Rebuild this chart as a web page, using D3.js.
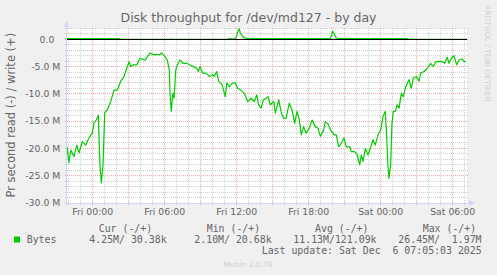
<!DOCTYPE html>
<html><head><meta charset="utf-8">
<script src="https://cdn.jsdelivr.net/npm/d3@7"></script>
<style>
html,body{margin:0;padding:0;background:#f0f0f0;}
svg{display:block;}
text{white-space:pre;}
</style>
</head><body>
<svg id="c" width="497" height="275"></svg>
<script>
// ---------- data ----------
const title = "Disk throughput for /dev/md127 - by day";
const yLabel = "Pr second read (-) / write (+)";
const watermark = "RRDTOOL / TOBI OETIKER";
const footer = "Munin 2.0.76";
// hours relative to Fri 00:00
const readHours = [-2.14,-1.98,-1.83,-1.56,-1.33,-1.14,-0.87,-0.58,-0.39,-0.23,-0.03,0.11,0.30,0.47,0.53,0.61,0.72,0.86,1.00,1.22,1.50,1.78,2.05,2.33,2.61,2.75,3.03,3.17,3.38,3.67,3.94,4.36,4.78,5.05,5.33,5.61,5.75,6.03,6.22,6.38,6.44,6.55,6.67,6.78,6.92,7.05,7.28,7.55,7.83,8.11,8.38,8.67,8.80,8.94,9.17,9.44,9.72,10.00,10.13,10.33,10.50,10.78,11.05,11.17,11.38,11.67,11.88,12.08,12.36,12.63,12.92,13.19,13.47,13.67,13.83,14.03,14.22,14.38,14.61,14.80,15.08,15.22,15.50,15.72,15.92,16.11,16.38,16.61,16.83,17.03,17.22,17.38,17.58,17.78,18.05,18.28,18.55,18.78,18.97,19.25,19.38,19.61,19.83,20.11,20.30,20.50,20.72,20.94,21.13,21.42,21.55,21.83,22.05,22.25,22.38,22.53,22.72,22.94,23.17,23.36,23.55,23.78,24.00,24.19,24.38,24.50,24.61,24.69,24.83,24.94,25.05,25.22,25.36,25.53,25.72,25.88,26.08,26.36,26.55,26.72,27.00,27.19,27.33,27.61,27.88,28.17,28.38,28.58,28.86,29.13,29.33,29.55,29.69,29.88,30.11,30.33,30.53,30.80,30.94,31.08];
// read throughput in MB/s (drawn negative)
const readValues = [-19.7,-22.6,-20.3,-21.5,-19.4,-20.8,-18.75,-19.4,-18.4,-17.8,-17.2,-15.3,-14.8,-13.9,-18.4,-23.3,-26.3,-23.0,-13.5,-12.9,-11.4,-9.3,-9.3,-7.7,-6.8,-5.9,-4.1,-5.0,-4.7,-4.7,-3.5,-3.8,-2.5,-2.8,-2.8,-2.8,-2.5,-3.2,-3.8,-5.6,-9.9,-13.2,-9.9,-10.8,-5.6,-4.7,-3.8,-4.4,-4.4,-4.7,-5.0,-5.3,-5.9,-5.0,-6.2,-6.2,-6.8,-6.5,-6.8,-5.9,-7.7,-8.3,-10.5,-8.0,-8.7,-8.0,-8.0,-9.0,-9.3,-9.9,-11.4,-10.8,-11.4,-10.2,-12.0,-12.6,-11.1,-10.9,-10.5,-12.0,-11.4,-13.5,-11.1,-13.5,-14.5,-14.5,-11.7,-12.9,-15.4,-13.2,-14.8,-17.5,-16.0,-17.2,-16.3,-14.8,-16.0,-16.3,-17.8,-16.6,-15.1,-15.5,-16.6,-17.5,-17.5,-19.7,-19.0,-18.1,-19.7,-19.7,-20.6,-20.6,-21.2,-23.0,-21.2,-22.4,-20.0,-21.2,-19.7,-18.4,-19.4,-17.5,-16.6,-14.2,-13.2,-17.8,-23.3,-25.5,-23.0,-15.4,-13.2,-13.2,-12.0,-12.6,-9.9,-10.5,-8.7,-7.4,-9.0,-7.1,-6.8,-7.7,-6.2,-5.9,-5.3,-4.4,-5.0,-4.1,-4.1,-4.1,-4.4,-3.3,-4.4,-3.5,-3.0,-4.7,-3.8,-3.6,-4.1,-4.1];
const writeHours = [-2.14,2.20,2.25,6.50,6.58,6.65,11.20,11.30,11.50,11.80,11.95,12.10,12.20,12.30,12.45,12.70,12.90,19.80,19.90,19.97,20.10,20.25,20.40,26.20,26.25,26.55,26.60,26.65,31.19];
const writeValues = [0.15,0.15,0,0,0.12,0,0,0.12,0.1,0.15,0.3,1.4,2.0,1.2,0.6,0.25,0.15,0.15,0.6,1.5,1.1,0.4,0.15,0.15,0,0,0.12,0,0];
const yTicks = [0,-5,-10,-15,-20,-25,-30];
const legendHeaders = ["Cur (-/+)","Min (-/+)","Avg (-/+)","Max (-/+)"];
const legendValues = ["4.25M/ 30.38k","2.10M/ 20.68k","11.13M/121.09k","26.45M/  1.97M"];
const seriesName = "Bytes";
const lastUpdate = "Last update: Sat Dec  6 07:05:03 2025";

// ---------- layout ----------
const X0 = 67, X1 = 467, Y0 = 203, Y1 = 28.4;
const HOUR = 3600e3;
const t0 = Date.UTC(2025, 11, 5, 0, 0); // Fri Dec 5 2025 00:00
const tStart = new Date(t0 - 2.142 * HOUR), tEnd = new Date(t0 + 31.191 * HOUR);
const x = d3.scaleUtc().domain([tStart, tEnd]).range([X0, X1]);
const y = d3.scaleLinear().domain([-30, 2]).range([Y0, Y1]);
const FONT = "#666666", AXIS = "#CFD6F8";
const GRID = "rgba(143,143,143,0.42)", MGRID = "rgba(222,79,79,0.5)";
const crisp = v => Math.round(v - 0.5) + 0.5;

const svg = d3.select("#c");
svg.append("rect").attr("width", 497).attr("height", 275).attr("fill", "#f0f0f0");
svg.append("rect").attr("x", X0).attr("y", Y1).attr("width", X1 - X0).attr("height", Y0 - Y1).attr("fill", "#fff");

const grid = svg.append("g").attr("shape-rendering", "crispEdges").attr("stroke-width", 1).attr("stroke-dasharray", "1,1");
// horizontal grid
const yMinor = d3.range(-30, 2.001, 1).filter(v => v % 5 !== 0);
const yMajor = d3.range(-30, 2.001, 5);
grid.selectAll(".hm").data(yMinor).join("line")
  .attr("x1", X0 - 2).attr("x2", X1 + 2).attr("y1", d => crisp(y(d))).attr("y2", d => crisp(y(d)))
  .attr("stroke", GRID);
grid.selectAll(".hM").data(yMajor).join("line")
  .attr("x1", X0 - 2).attr("x2", X1 + 2).attr("y1", d => crisp(y(d))).attr("y2", d => crisp(y(d)))
  .attr("stroke", MGRID);
// vertical grid
const hours = d3.utcHour.range(tStart, tEnd);
grid.selectAll(".vm").data(hours.filter(d => d.getUTCHours() % 3 !== 0)).join("line")
  .attr("x1", d => crisp(x(d))).attr("x2", d => crisp(x(d))).attr("y1", Y1).attr("y2", Y0 + 2)
  .attr("stroke", GRID);
grid.selectAll(".vM").data(hours.filter(d => d.getUTCHours() % 3 === 0)).join("line")
  .attr("x1", d => crisp(x(d))).attr("x2", d => crisp(x(d))).attr("y1", Y1).attr("y2", Y0 + 2)
  .attr("stroke", MGRID);

// axes
const ax = svg.append("g").attr("shape-rendering", "crispEdges");
ax.append("line").attr("x1", X0 - 0.5).attr("x2", X0 - 0.5).attr("y1", Y0 + 2).attr("y2", Y1 - 3).attr("stroke", AXIS);
ax.append("line").attr("x1", X0 - 2).attr("x2", X1 + 3).attr("y1", crisp(Y0)).attr("y2", crisp(Y0)).attr("stroke", AXIS);
svg.append("path").attr("d", `M${X0 - 3.5},${Y1 - 1.5}L${X0 + 2.5},${Y1 - 1.5}L${X0 - 0.5},${Y1 - 7.5}Z`).attr("fill", AXIS);
svg.append("path").attr("d", `M${X1 + 2},${Y0 - 3}L${X1 + 2},${Y0 + 3}L${X1 + 8},${Y0}Z`).attr("fill", AXIS);

// data lines
const clip = svg.append("clipPath").attr("id", "pc");
clip.append("rect").attr("x", X0).attr("y", Y1).attr("width", X1 - X0).attr("height", Y0 - Y1);
const line = d3.line().x(d => x(new Date(t0 + d[0] * HOUR))).y(d => y(d[1]));
const readData = readHours.map((h, i) => [h, readValues[i]]);
const writeData = writeHours.map((h, i) => [h, writeValues[i]]);
const lines = svg.append("g").attr("clip-path", "url(#pc)");
lines.append("path").attr("d", line(readData)).attr("fill", "none").attr("stroke", "#00CC00").attr("stroke-width", 1.2).attr("stroke-linejoin", "round");
lines.append("path").attr("d", line(writeData)).attr("fill", "none").attr("stroke", "#00CC00").attr("stroke-width", 1.2).attr("stroke-linejoin", "round");
svg.append("line").attr("x1", X0).attr("x2", X1).attr("y1", crisp(y(0))).attr("y2", crisp(y(0)))
  .attr("stroke", "#000").attr("shape-rendering", "crispEdges");

// y tick labels
svg.append("g").selectAll("text").data(yTicks).join("text")
  .attr("x", 60.3).attr("y", d => y(d)).attr("dy", "0.35em").attr("text-anchor", "end")
  .attr("font-family", "DejaVu Sans").attr("font-size", 9.3).attr("fill", FONT)
  .text(d => d === 0 ? "0.0\u00a0\u00a0" : d3.format(".1f")(d).replace("\u2212", "-") + " M");

// x tick labels
const fmt = d3.utcFormat("%a %H:%M");
svg.append("g").selectAll("text").data(hours.filter(d => d.getUTCHours() % 6 === 0)).join("text")
  .attr("x", d => x(d)).attr("y", 215.2).attr("text-anchor", "middle")
  .attr("font-family", "DejaVu Sans").attr("font-size", 9.3).attr("fill", FONT)
  .text(d => fmt(d));

// title & labels
svg.append("text").attr("x", 248.5).attr("y", 22.4).attr("text-anchor", "middle")
  .attr("font-family", "DejaVu Sans").attr("font-size", 12.5).attr("fill", FONT).text(title);
svg.append("text").attr("transform", `translate(15,${(Y0 + Y1) / 2 - 0.5}) rotate(-90)`).attr("text-anchor", "middle")
  .attr("font-family", "DejaVu Sans").attr("font-size", 11.5).attr("fill", FONT).text(yLabel);
svg.append("text").attr("transform", "translate(485,5) rotate(90)").attr("text-anchor", "start")
  .attr("font-family", "DejaVu Sans").attr("font-size", 7.5).attr("fill", "#d0d0d0").text(watermark);
svg.append("text").attr("x", 248).attr("y", 267).attr("text-anchor", "middle")
  .attr("font-family", "DejaVu Sans").attr("font-size", 7.5).attr("fill", "#d0d0d0").text(footer);

// legend
const mono = "DejaVu Sans Mono";
const headerX = [98.7, 206.7, 315, 422.7];
const valueX = [89.3, 194.3, 293.3, 398.3];
svg.append("g").selectAll("text").data(legendHeaders).join("text")
  .attr("x", (d, i) => headerX[i]).attr("y", 231.5).attr("font-family", mono).attr("font-size", 9.9).attr("fill", FONT).text(d => d);
svg.append("g").selectAll("text").data(legendValues).join("text")
  .attr("x", (d, i) => valueX[i]).attr("y", 243.2).attr("font-family", mono).attr("font-size", 9.9).attr("fill", FONT).text(d => d);
svg.append("rect").attr("x", 14).attr("y", 236.5).attr("width", 6).attr("height", 6).attr("fill", "#00CC00");
svg.append("text").attr("x", 26.7).attr("y", 243.2).attr("font-family", mono).attr("font-size", 9.9).attr("fill", FONT).text(seriesName);
svg.append("text").attr("x", 261.7).attr("y", 254).attr("font-family", mono).attr("font-size", 9.9).attr("fill", FONT).text(lastUpdate);
</script>
</body></html>
